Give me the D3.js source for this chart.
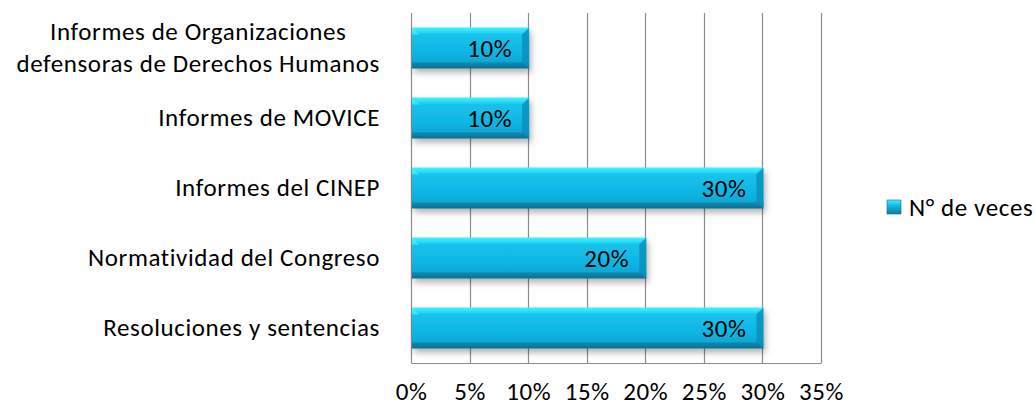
<!DOCTYPE html>
<html>
<head>
<meta charset="utf-8">
<script src="https://cdn.jsdelivr.net/npm/d3@7"></script>
<style>
  body { margin: 0; background: #fff; }
  svg text { font-family: Carlito, Lato, "Open Sans", sans-serif; fill: #000; font-size: 25px; letter-spacing: 0.6px; }
</style>
</head>
<body>
<div id="chart"></div>
<script>
// Données du graphique
const categories = [
    ["Informes de Organizaciones", "defensoras de Derechos Humanos"],
    ["Informes de MOVICE"],
    ["Informes del CINEP"],
    ["Normatividad del Congreso"],
    ["Resoluciones y sentencias"]
];
const valores = [10, 10, 30, 20, 30];
const ticks = [0, 5, 10, 15, 20, 25, 30, 35];
const serieNombre = "N° de veces";

const W = 1036, H = 406;
const margin = { top: 13, right: 215, bottom: 43, left: 411 };
const width = W - margin.left - margin.right;
const height = H - margin.top - margin.bottom;
const labelRight = 380;

const svg = d3.select("#chart").append("svg")
    .attr("width", W)
    .attr("height", H);

// Dégradés pour l'effet biseauté
const defs = svg.append("defs");
const grad = defs.append("linearGradient")
    .attr("id", "barGrad")
    .attr("x1", 0).attr("y1", 0).attr("x2", 0).attr("y2", 1);
grad.append("stop").attr("offset", "0%").attr("stop-color", "#3ff2ff");
grad.append("stop").attr("offset", "10%").attr("stop-color", "#2cdcf8");
grad.append("stop").attr("offset", "18%").attr("stop-color", "#14c2ec");
grad.append("stop").attr("offset", "60%").attr("stop-color", "#10b6e4");
grad.append("stop").attr("offset", "84%").attr("stop-color", "#0ea8d6");
grad.append("stop").attr("offset", "86%").attr("stop-color", "#0b8ab2");
grad.append("stop").attr("offset", "100%").attr("stop-color", "#0a6f90");

const legGrad = defs.append("linearGradient")
    .attr("id", "legGrad")
    .attr("x1", 0).attr("y1", 0).attr("x2", 0).attr("y2", 1);
legGrad.append("stop").attr("offset", "0%").attr("stop-color", "#3ff2ff");
legGrad.append("stop").attr("offset", "40%").attr("stop-color", "#14b8e2");
legGrad.append("stop").attr("offset", "100%").attr("stop-color", "#0a7fa4");

const filt = defs.append("filter").attr("id", "shadow")
    .attr("x", "-5%").attr("y", "-20%").attr("width", "115%").attr("height", "160%");
filt.append("feDropShadow")
    .attr("dx", 2).attr("dy", 4).attr("stdDeviation", 3)
    .attr("flood-color", "#000").attr("flood-opacity", 0.3);

const g = svg.append("g")
    .attr("transform", `translate(${margin.left},${margin.top})`);

// Échelles
const x = d3.scaleLinear().domain([0, 35]).range([0, width]);
const y = d3.scaleBand()
    .domain(d3.range(categories.length))
    .range([0, height])
    .paddingInner(0.414)
    .paddingOuter(0.207);

// Grille verticale
g.selectAll(".grid")
    .data(ticks)
    .enter()
    .append("line")
    .attr("x1", d => Math.round(x(d)) + 0.5)
    .attr("x2", d => Math.round(x(d)) + 0.5)
    .attr("y1", 0)
    .attr("y2", height)
    .style("stroke", "#8c8c8c")
    .style("stroke-width", 1.2);

// Axe du bas
const xAxis = g.append("g")
    .attr("transform", `translate(0,${height + 0.5})`)
    .call(d3.axisBottom(x).tickValues(ticks).tickSize(0).tickPadding(19)
        .tickFormat(d => d + "%"));
xAxis.select(".domain").style("stroke", "#8c8c8c").style("stroke-width", 1.2)
    .attr("d", `M0.5,0H${width + 0.5}`);
xAxis.selectAll("text")
    .style("font-size", "25px")
    .style("font-family", "Carlito, Lato, 'Open Sans', sans-serif");

// Barres
g.selectAll(".bar")
    .data(valores)
    .enter()
    .append("rect")
    .attr("class", "bar")
    .attr("x", 1)
    .attr("y", (d, i) => y(i))
    .attr("width", d => x(d))
    .attr("height", y.bandwidth())
    .style("fill", "url(#barGrad)")
    .style("filter", "url(#shadow)");

// Biseau : coin clair en haut à gauche, bord sombre à droite
g.selectAll(".bevelL")
    .data(valores)
    .enter()
    .append("path")
    .attr("d", (d, i) => {
        const y0 = y(i), b = 7;
        return `M1,${y0}L${1 + b},${y0 + b}L1,${y0 + b}Z`;
    })
    .style("fill", "#3ff2ff")
    .style("opacity", 0.7);

g.selectAll(".bevelR")
    .data(valores)
    .enter()
    .append("path")
    .attr("d", (d, i) => {
        const x1 = 1 + x(d), y0 = y(i), b = 7, h = y.bandwidth();
        return `M${x1},${y0}L${x1 - b},${y0 + b}L${x1 - b},${y0 + h - 6}L${x1},${y0 + h}Z`;
    })
    .style("fill", "#0a90bc")
    .style("opacity", 0.85);

// Valeurs
g.selectAll(".lbl")
    .data(valores)
    .enter()
    .append("text")
    .attr("x", d => x(d) - 16)
    .attr("y", (d, i) => y(i) + y.bandwidth() / 2)
    .attr("dy", "0.35em")
    .attr("text-anchor", "end")
    .text(d => d + "%");

// Libellés des catégories (lignes multiples centrées entre elles, bloc aligné à droite)
const cat = svg.append("g")
    .selectAll("text")
    .data(categories)
    .enter()
    .append("text")
    .attr("text-anchor", d => d.length > 1 ? "middle" : "end")
    .attr("x", labelRight)
    .attr("y", (d, i) => margin.top + y(i) + y.bandwidth() / 2);
cat.selectAll("tspan")
    .data(d => d.map((t, k) => ({ t, k, n: d.length })))
    .enter()
    .append("tspan")
    .attr("x", labelRight)
    .attr("dy", d => d.k === 0 ? `${0.33 - (d.n - 1) * 0.64}em` : "1.28em")
    .text(d => d.t);
cat.each(function (d) {
    if (d.length < 2) return;
    const spans = d3.select(this).selectAll("tspan");
    const maxW = d3.max(spans.nodes(), n => n.getComputedTextLength());
    spans.attr("x", labelRight - maxW / 2);
});

// Légende
const leg = svg.append("g").attr("transform", "translate(887,200)");
leg.append("rect")
    .attr("width", 14).attr("height", 14)
    .style("fill", "url(#legGrad)")
    .style("stroke", "#0a6f90").style("stroke-width", 0.6);
leg.append("text")
    .attr("x", 22).attr("y", 7)
    .attr("dy", "0.35em")
    .text(serieNombre);
</script>
</body>
</html>
